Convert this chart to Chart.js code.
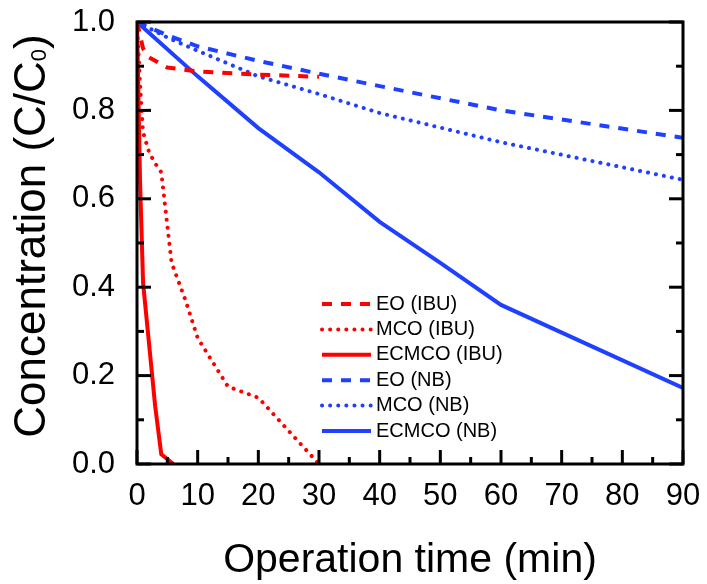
<!DOCTYPE html>
<html>
<head>
<meta charset="utf-8">
<script src="https://cdn.jsdelivr.net/npm/chart.js@4.4.0/dist/chart.umd.min.js"></script>
<style>
  body { margin: 0; background: #fff; }
  #wrap { width: 707px; height: 584px; }
</style>
</head>
<body>
<div id="wrap"><canvas id="concentrationChart" width="707" height="584"></canvas></div>
<script>
// ## DATA ##
const seriesLabels = ["EO (IBU)", "MCO (IBU)", "ECMCO (IBU)", "EO (NB)", "MCO (NB)", "ECMCO (NB)"];

const eoIbuTime = [0, 1, 2, 5, 10, 20, 30];
const eoIbuConc = [1.0, 0.94, 0.92, 0.897, 0.888, 0.881, 0.876];

const mcoIbuTime = [0, 0.5, 1, 2, 3, 4, 5.7, 8, 10, 15, 20, 30];
const mcoIbuConc = [1.0, 0.86, 0.75, 0.705, 0.68, 0.66, 0.455, 0.37, 0.285, 0.175, 0.15, 0.0];

const ecmcoIbuTime = [0, 0.5, 1, 2, 3, 4, 6];
const ecmcoIbuConc = [1.0, 0.64, 0.41, 0.27, 0.13, 0.022, 0.0];

const eoNbTime = [0, 5, 10, 20, 30, 40, 60, 90];
const eoNbConc = [1.0, 0.97, 0.945, 0.912, 0.883, 0.855, 0.8, 0.738];

const mcoNbTime = [0, 5, 10, 20, 30, 40, 60, 90];
const mcoNbConc = [1.0, 0.965, 0.935, 0.877, 0.837, 0.794, 0.728, 0.643];

const ecmcoNbTime = [0, 10, 20, 30, 40, 50, 60, 90];
const ecmcoNbConc = [1.0, 0.877, 0.76, 0.66, 0.548, 0.455, 0.36, 0.172];

const xMin = 0, xMax = 90, xStep = 10;
const yMin = 0, yMax = 1, yStep = 0.2;

const FONT = "'Liberation Sans', Arial, sans-serif";
const RED = "#ff0000";
const BLUE = "#2040ff";

function toPoints(xs, ys) {
  return xs.map((x, i) => ({ x: x, y: ys[i] }));
}

function lineStyle(kind, color) {
  if (kind === "dash") {
    return { borderColor: color, borderWidth: 4, borderDash: [10, 9], borderCapStyle: "butt" };
  }
  if (kind === "dot") {
    return { borderColor: color, borderWidth: 4, borderDash: [0.1, 8], borderCapStyle: "round" };
  }
  return { borderColor: color, borderWidth: 4, borderDash: [], borderCapStyle: "butt" };
}

function noOverflow(scale) {
  scale.paddingTop = 0;
  scale.paddingBottom = 0;
  scale.paddingLeft = 0;
  scale.paddingRight = 0;
}

// frame with inward ticks, y title with subscript, and the legend
const decorations = {
  id: "decorations",
  afterDraw(chart) {
    const { ctx, chartArea: a, scales } = chart;
    ctx.save();
    ctx.strokeStyle = "#000";
    ctx.lineWidth = 3;
    ctx.setLineDash([]);
    ctx.lineCap = "butt";

    const seg = (x1, y1, x2, y2) => {
      ctx.beginPath();
      ctx.moveTo(x1, y1);
      ctx.lineTo(x2, y2);
      ctx.stroke();
    };

    for (let i = 0; i <= 10; i++) {
      const y = scales.y.getPixelForValue(i / 10);
      const len = i % 2 === 0 ? 14 : 7;
      seg(a.left, y, a.left + len, y);
      seg(a.right - len, y, a.right, y);
    }
    for (let v = xMin; v <= xMax; v += 5) {
      const x = scales.x.getPixelForValue(v);
      const len = v % 10 === 0 ? 14 : 7;
      seg(x, a.bottom, x, a.bottom - len);
    }
    ctx.strokeRect(a.left, a.top, a.right - a.left, a.bottom - a.top);

    // y axis title
    ctx.fillStyle = "#000";
    ctx.translate(45, 236);
    ctx.rotate(-Math.PI / 2);
    ctx.textBaseline = "alphabetic";
    ctx.textAlign = "left";
    const main = "Concentration (C/C";
    const sub = "0";
    const tail = ")";
    ctx.font = "44px " + FONT;
    const wMain = ctx.measureText(main).width;
    const wTail = ctx.measureText(tail).width;
    ctx.font = "22px " + FONT;
    const wSub = ctx.measureText(sub).width;
    let x0 = -(wMain + wSub + wTail) / 2;
    ctx.font = "44px " + FONT;
    ctx.fillText(main, x0, 0);
    ctx.font = "22px " + FONT;
    ctx.fillText(sub, x0 + wMain, 1);
    ctx.font = "44px " + FONT;
    ctx.fillText(tail, x0 + wMain + wSub, 0);
    ctx.restore();

    // legend
    ctx.save();
    ctx.font = "20px " + FONT;
    ctx.textBaseline = "middle";
    ctx.fillStyle = "#000";
    chart.data.datasets.forEach((ds, i) => {
      const y = 304 + i * 25.4;
      ctx.strokeStyle = ds.borderColor;
      ctx.lineWidth = ds.borderWidth;
      ctx.setLineDash(ds.borderDash);
      ctx.lineCap = ds.borderCapStyle;
      ctx.beginPath();
      ctx.moveTo(322, y);
      ctx.lineTo(371, y);
      ctx.stroke();
      ctx.fillText(ds.label, 376, y);
    });
    ctx.restore();
  },
};

const ctx = document.getElementById("concentrationChart").getContext("2d");
window.concentrationChart = new Chart(ctx, {
  type: "line",
  data: {
    datasets: [
      { label: seriesLabels[0], data: toPoints(eoIbuTime, eoIbuConc), ...lineStyle("dash", RED) },
      { label: seriesLabels[1], data: toPoints(mcoIbuTime, mcoIbuConc), ...lineStyle("dot", RED) },
      { label: seriesLabels[2], data: toPoints(ecmcoIbuTime, ecmcoIbuConc), ...lineStyle("solid", RED) },
      { label: seriesLabels[3], data: toPoints(eoNbTime, eoNbConc), ...lineStyle("dash", BLUE) },
      { label: seriesLabels[4], data: toPoints(mcoNbTime, mcoNbConc), ...lineStyle("dot", BLUE) },
      { label: seriesLabels[5], data: toPoints(ecmcoNbTime, ecmcoNbConc), ...lineStyle("solid", BLUE) },
    ],
  },
  options: {
    responsive: false,
    animation: false,
    devicePixelRatio: 1,
    layout: { padding: { top: 22, right: 24, left: 0, bottom: 0 } },
    elements: {
      point: { radius: 0, hoverRadius: 0 },
      line: { tension: 0, fill: false },
    },
    plugins: {
      legend: { display: false },
      tooltip: { enabled: false },
    },
    scales: {
      x: {
        type: "linear",
        min: xMin,
        max: xMax,
        ticks: {
          stepSize: xStep,
          color: "#000",
          font: { family: FONT, size: 31 },
          padding: 14,
          maxRotation: 0,
          autoSkip: false,
        },
        grid: { display: false, drawTicks: false },
        border: { display: false },
        title: {
          display: true,
          text: "Operation time (min)",
          color: "#000",
          font: { family: FONT, size: 41, lineHeight: 1 },
          padding: { top: 0, bottom: 3 },
        },
        afterFit(scale) {
          scale.height = 120;
          noOverflow(scale);
        },
      },
      y: {
        min: yMin,
        max: yMax,
        ticks: {
          stepSize: yStep,
          color: "#000",
          font: { family: FONT, size: 31 },
          padding: 22,
          callback: (v) => v.toFixed(1),
        },
        grid: { display: false, drawTicks: false },
        border: { display: false },
        afterFit(scale) {
          scale.width = 137;
          noOverflow(scale);
        },
      },
    },
  },
  plugins: [decorations],
});
</script>
</body>
</html>
